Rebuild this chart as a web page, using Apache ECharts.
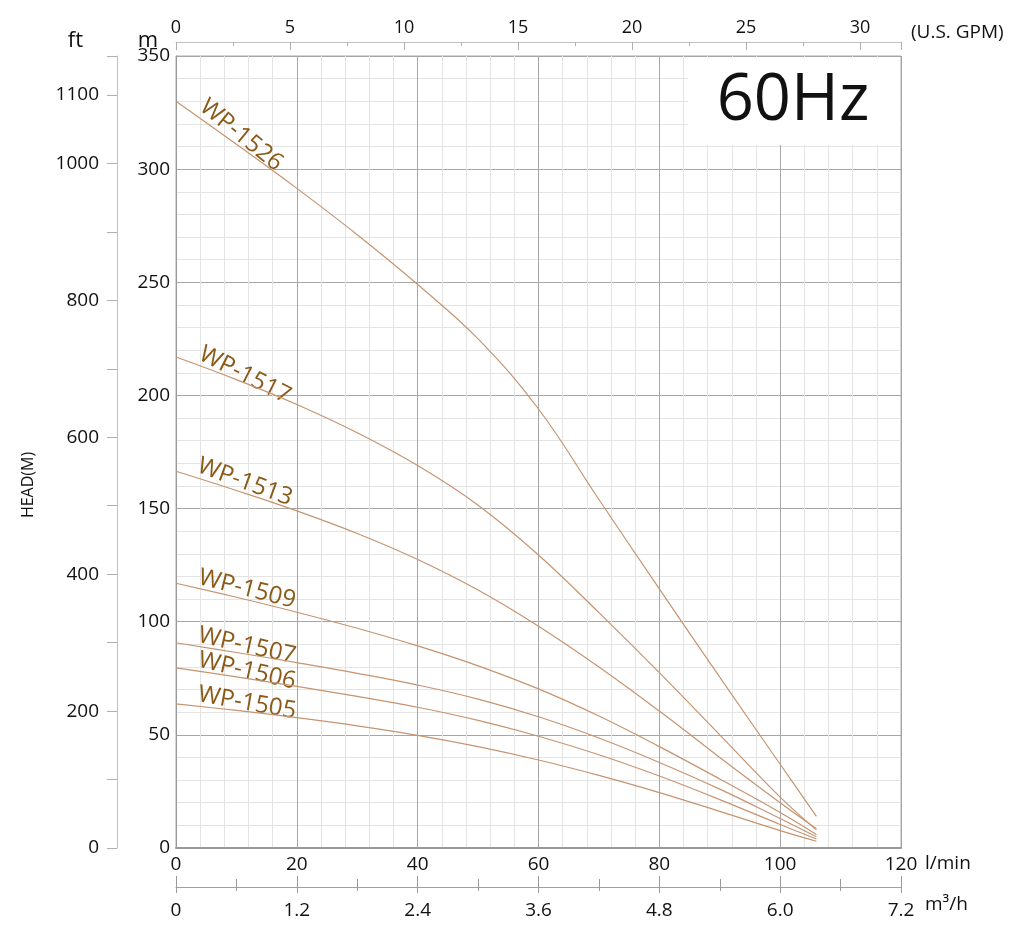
<!DOCTYPE html>
<html>
<head>
<meta charset="utf-8">
<script src="https://cdn.jsdelivr.net/npm/echarts@6/dist/echarts.min.js"></script>
<style>
html,body{margin:0;padding:0;background:#fff;}
#chart{width:1024px;height:944px;}
</style>
</head>
<body>
<div id="chart"></div>
<script>
// ---- data (flow in l/min, head in m) ----
const flowLpm = [0, 10, 20, 30, 40, 50, 60, 70, 80, 90, 100, 106];
const wp1526 = [330, 311, 291.5, 271, 249, 225, 194, 154, 114.5, 75.5, 37, 14];
const wp1517 = [217, 207, 196, 183.5, 169, 151.5, 129.5, 104, 77.5, 50, 22.5, 8];
const wp1513 = [166.5, 158, 149, 139, 127.5, 114, 98, 80, 60.5, 40, 20, 8.5];
const wp1509 = [117, 110.8, 104.2, 97.1, 89.3, 80.5, 70.3, 58.3, 44.8, 30.5, 15.7, 6];
const wp1507 = [90.7, 86.4, 81.9, 77.2, 72.0, 65.8, 58.0, 48.6, 37.8, 26.0, 13, 5];
const wp1506 = [79.6, 75.6, 71.4, 67.0, 62.2, 56.4, 49.4, 41.2, 31.8, 21.4, 10.4, 4];
const wp1505 = [63.7, 60.8, 57.6, 54.0, 49.8, 44.8, 38.9, 32.1, 24.5, 16.2, 7.7, 3];
const seriesNames = ['WP-1526', 'WP-1517', 'WP-1513', 'WP-1509', 'WP-1507', 'WP-1506', 'WP-1505'];
const seriesValues = [wp1526, wp1517, wp1513, wp1509, wp1507, wp1506, wp1505];
// curve label anchors (flow, head) and angles
const labelFlow = [10.8, 11.4, 11.4, 11.75, 11.75, 11.75, 11.75];
const labelHead = [315, 209, 161.7, 114.4, 89.3, 78.2, 64.1];
const labelAngle = [-39, -27, -20, -14, -12.5, -13, -10];
// axis ticks / scales as drawn
const lpmMax = 120, lpmStep = 20;
const headMax = 350, headStep = 50;
const ftMax = 1157, ftStep = 100;
const ftLabels = [0, 200, 400, 600, 800, 1000, 1100];
const gpmMax = 31.8, gpmStep = 5;
const gpmLabels = [0, 5, 10, 15, 20, 25, 30];
const m3hMax = 7.2, m3hStep = 1.2;

const FONT = '"Open Sans", "Noto Sans", sans-serif';
const lineColor = '#c69470';
const labelColor = '#8a5a18';

const chart = echarts.init(document.getElementById('chart'), null, {renderer: 'canvas'});

const series = seriesNames.map((name, i) => ({
  name: name,
  type: 'line',
  xAxisIndex: 0,
  yAxisIndex: 0,
  smooth: 0.4,
  symbol: 'none',
  lineStyle: {color: lineColor, width: 1.2},
  data: flowLpm.map((f, k) => [f, seriesValues[i][k]]),
  markPoint: {
    symbol: 'circle',
    symbolSize: 1,
    itemStyle: {color: 'rgba(0,0,0,0)'},
    silent: true,
    data: [{
      coord: [labelFlow[i], labelHead[i]],
      label: {
        show: true,
        position: 'inside',
        formatter: name,
        rotate: labelAngle[i],
        color: labelColor,
        fontFamily: FONT,
        fontSize: 24
      }
    }]
  },
  z: 5
}));

const tickGray = '#9a9a9a';
const axisText = {color: '#111', fontFamily: FONT, fontSize: 19};

const option = {
  animation: false,
  backgroundColor: '#fff',
  grid: {
    left: 176, right: 123, top: 56, bottom: 96,
    show: true, borderColor: '#aaa', borderWidth: 1,
    outerBoundsMode: 'none'
  },
  xAxis: [
    {
      type: 'value', position: 'bottom', min: 0, max: lpmMax, interval: lpmStep,
      name: 'l/min', nameLocation: 'end', nameGap: 24, nameMoveOverlap: false,
      nameTextStyle: {color: '#111', fontFamily: FONT, fontSize: 19, align: 'left', verticalAlign: 'top', padding: [6, 0, 0, 0]},
      axisLine: {show: true, onZero: false, lineStyle: {color: '#999', width: 2}},
      axisTick: {show: false},
      axisLabel: Object.assign({margin: 7}, axisText),
      splitLine: {show: true, lineStyle: {color: '#a6a6a6', width: 1}},
      minorTick: {show: false, splitNumber: 5},
      minorSplitLine: {show: true, lineStyle: {color: '#e4e4e4', width: 1}}
    },
    {
      type: 'value', position: 'top', offset: 14, min: 0, max: gpmMax, interval: gpmStep,
      name: '(U.S. GPM)', nameLocation: 'end', nameGap: 10, nameMoveOverlap: false,
      nameTextStyle: {color: '#111', fontFamily: FONT, fontSize: 19, align: 'left', verticalAlign: 'bottom', padding: [0, 0, 0, 0]},
      axisLine: {show: true, onZero: false, lineStyle: {color: '#c0c0c0', width: 1}},
      axisTick: {show: true, inside: true, length: 8, lineStyle: {color: '#b0b0b0'}},
      minorTick: {show: true, splitNumber: 2, length: 4, lineStyle: {color: '#b0b0b0'}},
      axisLabel: Object.assign({margin: 5, formatter: v => gpmLabels.indexOf(Math.round(v * 1000) / 1000) >= 0 ? String(v) : ''}, axisText, {fontSize: 18}),
      splitLine: {show: false}
    },
    {
      type: 'value', position: 'bottom', offset: 39, min: 0, max: m3hMax, interval: m3hStep,
      name: 'm³/h', nameLocation: 'end', nameGap: 24, nameMoveOverlap: false,
      nameTextStyle: {color: '#111', fontFamily: FONT, fontSize: 19, align: 'left', verticalAlign: 'top', padding: [8, 0, 0, 0]},
      axisLine: {show: true, onZero: false, lineStyle: {color: '#a0a0a0', width: 1}},
      axisTick: {show: true, inside: true, length: 11, lineStyle: {color: tickGray}},
      minorTick: {show: true, splitNumber: 2, length: 8, lineStyle: {color: tickGray}},
      axisLabel: Object.assign({margin: 14, formatter: v => v === 0 ? '0' : v.toFixed(1)}, axisText),
      splitLine: {show: false}
    },
    {
      type: 'value', position: 'bottom', offset: 39, min: 0, max: m3hMax, interval: m3hStep,
      axisLine: {show: false, onZero: false},
      axisTick: {show: true, inside: false, length: 6, lineStyle: {color: tickGray}},
      minorTick: {show: true, splitNumber: 2, length: 4, lineStyle: {color: tickGray}},
      axisLabel: {show: false},
      splitLine: {show: false}
    }
  ],
  yAxis: [
    {
      type: 'value', position: 'left', min: 0, max: headMax, interval: headStep,
      name: 'm', nameLocation: 'end', nameGap: 4, nameMoveOverlap: false,
      nameTextStyle: {color: '#111', fontFamily: FONT, fontSize: 22, align: 'right', padding: [0, 18, 0, 0]},
      axisLine: {show: true, onZero: false, lineStyle: {color: '#999', width: 1}},
      axisTick: {show: false},
      axisLabel: Object.assign({margin: 6}, axisText),
      splitLine: {show: true, lineStyle: {color: '#a6a6a6', width: 1}},
      minorTick: {show: false, splitNumber: 5},
      minorSplitLine: {show: true, lineStyle: {color: '#e4e4e4', width: 1}}
    },
    {
      type: 'value', position: 'left', offset: 59, min: 0, max: ftMax, interval: ftStep,
      name: 'ft', nameLocation: 'end', nameGap: 4, nameMoveOverlap: false,
      nameTextStyle: {color: '#111', fontFamily: FONT, fontSize: 22, align: 'right', padding: [0, 34, 0, 0]},
      axisLine: {show: true, onZero: false, lineStyle: {color: '#c0c0c0', width: 1}},
      axisTick: {show: true, length: 10, lineStyle: {color: '#b0b0b0'}},
      axisLabel: Object.assign({margin: 18, formatter: v => ftLabels.indexOf(Math.round(v * 1000) / 1000) >= 0 ? String(v) : ''}, axisText),
      splitLine: {show: false}
    }
  ],
  graphic: [
    {
      type: 'rect', z: 50, silent: true,
      shape: {x: 688, y: 57, width: 212, height: 88},
      style: {fill: '#fff'}
    },
    {
      type: 'text', z: 51, silent: true,
      x: 793, y: 101,
      style: {text: '60Hz', fill: '#111', font: '65px "Open Sans", "Noto Sans", sans-serif', align: 'center', verticalAlign: 'middle'}
    },
    {
      type: 'text', z: 51, silent: true,
      x: 28, y: 485, rotation: Math.PI / 2,
      style: {text: 'HEAD(M)', fill: '#111', font: '16px "Open Sans", "Noto Sans", sans-serif', align: 'center', verticalAlign: 'middle'}
    }
  ],
  series: series
};

chart.setOption(option);
</script>
</body>
</html>
